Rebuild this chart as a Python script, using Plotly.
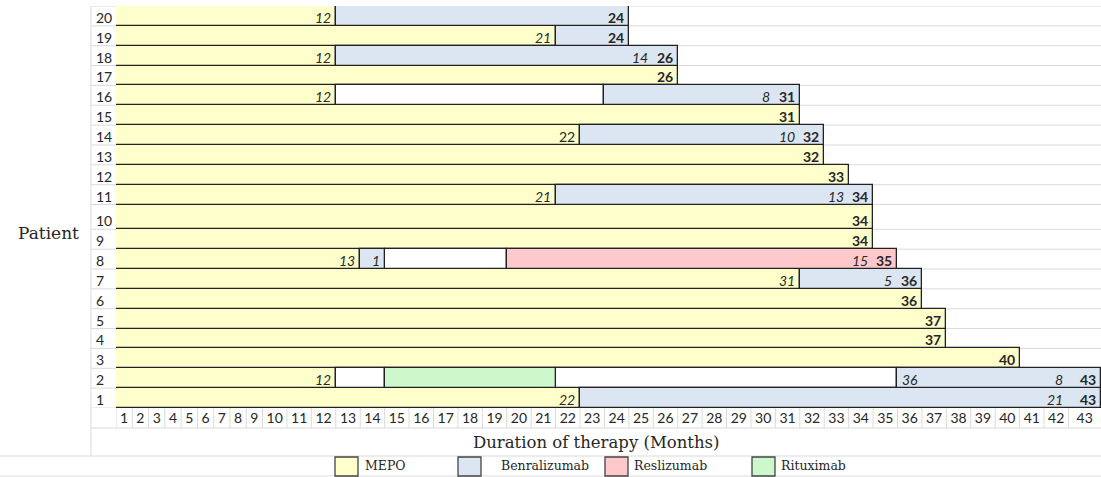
import plotly.graph_objects as go

# ---- data -----------------------------------------------------------------
MONTHS = list(range(1, 44))
PATIENTS = list(range(1, 21))

# MEPO is every patient's first therapy, from month 0 to the month below
MEPO_END = [22, 12, 40, 37, 37, 36, 31, 13, 34, 34,
            21, 33, 32, 22, 31, 12, 26, 12, 21, 12]

BENRA_PATIENT = [1, 2, 7, 8, 11, 14, 16, 18, 19, 20]
BENRA_START = [22, 35, 31, 13, 21, 22, 23, 12, 21, 12]
BENRA_END = [43, 43, 36, 14, 34, 32, 31, 26, 24, 24]

RESLI_PATIENT = [8]
RESLI_START = [19]
RESLI_END = [35]

RITUX_PATIENT = [2]
RITUX_START = [14]
RITUX_END = [21]

# periods without biologic therapy
GAP_PATIENT = [2, 2, 8, 16]
GAP_START = [12, 21, 14, 12]
GAP_END = [14, 35, 19, 23]

# duration notes written in the last-but-one month cell of a segment
NOTE_PATIENT = [18, 16, 14, 11, 8, 8, 7, 2, 1]
NOTE_MONTH = [25, 30, 31, 33, 14, 34, 35, 42, 42]
NOTE_TEXT = ["14", "8", "10", "13", "1", "15", "5", "8", "21"]

THERAPIES = ["MEPO", "Benralizumab", "Reslizumab", "Rituximab"]

# ---- sheet geometry ---------------------------------------------------------
# single-digit month columns are narrower, the last one wider; row 10 is taller
COL_WIDTH = [2] * 9 + [3] * 33 + [4]
ROW_HEIGHT = [4] * 9 + [5] + [4] * 10

COLORS = {"MEPO": "#FFFFCC", "Benralizumab": "#DCE6F2",
          "Reslizumab": "#FFC9CC", "Rituximab": "#CCF8CC", "gap": "#FFFFFF"}
EDGE = "#222222"
GRID = "#dadada"
CELL_FONT = dict(family="Lato", size=14, color="#262626")
SERIF = "DejaVu Serif"

W, H = 1101, 477
L, R, T, B = 116, 0, 6, 69


def edge(m):
    return sum(COL_WIDTH[:m])


def row_bottom(p):
    return sum(ROW_HEIGHT[:p - 1])


def row_mid(p):
    return row_bottom(p) + ROW_HEIGHT[p - 1] / 2


def px(xp):
    return (xp - L) / (W - L - R)


def py(yp):
    return (H - B - yp) / (H - B - T)


def seg_trace(name, color, pats, starts, ends):
    return go.Bar(
        orientation="h",
        y=[row_mid(p) for p in pats],
        base=[edge(s) for s in starts],
        x=[edge(e) - edge(s) for s, e in zip(starts, ends)],
        width=[ROW_HEIGHT[p - 1] for p in pats],
        marker=dict(color=color, line=dict(color=EDGE, width=1.3)),
        name=name, showlegend=False,
        hovertemplate=name + "<extra></extra>",
    )


fig = go.Figure()
fig.add_trace(seg_trace("MEPO", COLORS["MEPO"], PATIENTS, [0] * 20, MEPO_END))
fig.add_trace(seg_trace("No therapy", COLORS["gap"], GAP_PATIENT, GAP_START, GAP_END))
fig.add_trace(seg_trace("Benralizumab", COLORS["Benralizumab"], BENRA_PATIENT, BENRA_START, BENRA_END))
fig.add_trace(seg_trace("Reslizumab", COLORS["Reslizumab"], RESLI_PATIENT, RESLI_START, RESLI_END))
fig.add_trace(seg_trace("Rituximab", COLORS["Rituximab"], RITUX_PATIENT, RITUX_START, RITUX_END))

# total follow-up per patient = last segment end
total = {p: e for p, e in zip(PATIENTS, MEPO_END)}
for pats, ends in [(BENRA_PATIENT, BENRA_END), (RESLI_PATIENT, RESLI_END),
                   (RITUX_PATIENT, RITUX_END), (GAP_PATIENT, GAP_END)]:
    for p, e in zip(pats, ends):
        total[p] = max(total[p], e)

ann = []


def cell_text(p, month, text, align="right"):
    if align == "right":
        x, xs = edge(month), -3
    else:
        x, xs = edge(month - 1), 3
    ann.append(dict(x=x, y=row_bottom(p), xref="x", yref="y", text=text,
                    xanchor=align, yanchor="bottom", xshift=xs, yshift=-2,
                    showarrow=False, font=CELL_FONT))


for p in PATIENTS:
    cell_text(p, total[p], "<b>%d</b>" % total[p])
    if MEPO_END[p - 1] < total[p]:
        t = str(MEPO_END[p - 1])
        cell_text(p, MEPO_END[p - 1], t if p == 14 else "<i>%s</i>" % t)

for p, m, t in zip(NOTE_PATIENT, NOTE_MONTH, NOTE_TEXT):
    cell_text(p, m, "<i>%s</i>" % t)

# first month of the late Benralizumab course of patient 2
for p, s in zip(BENRA_PATIENT, BENRA_START):
    if p == 2:
        cell_text(p, s + 1, "<i>%d</i>" % (s + 1), align="left")

# row headers
for p in PATIENTS:
    ann.append(dict(x=px(94), y=row_bottom(p), xref="paper", yref="y",
                    text=str(p), xanchor="left", yanchor="bottom", yshift=-2,
                    showarrow=False, font=CELL_FONT))

ann.append(dict(x=px(48), y=py(233), xref="paper", yref="paper", text="Patient",
                showarrow=False, xanchor="center", yanchor="middle",
                font=dict(family=SERIF, size=17, color="#262626")))
ann.append(dict(x=px(596), y=py(442), xref="paper", yref="paper",
                text="Duration of therapy (Months)", showarrow=False,
                xanchor="center", yanchor="middle",
                font=dict(family=SERIF, size=16.5, color="#262626")))

shapes = []
# horizontal sheet grid lines at every row boundary
y_acc = 0
for h in [0] + ROW_HEIGHT:
    y_acc += h
    shapes.append(dict(type="line", xref="paper", yref="y", x0=px(91), x1=1,
                       y0=y_acc, y1=y_acc, line=dict(color=GRID, width=1),
                       layer="below"))
# header column border
shapes.append(dict(type="line", xref="paper", yref="paper", x0=px(91), x1=px(91),
                   y0=py(6), y1=py(456), line=dict(color=GRID, width=1)))
# month row cells
for m in range(0, len(MONTHS)):
    shapes.append(dict(type="line", xref="x", yref="paper", x0=edge(m), x1=edge(m),
                       y0=py(408), y1=py(428), line=dict(color=GRID, width=1)))
for yp, x0 in [(428, 91), (456, 0), (476, 0)]:
    shapes.append(dict(type="line", xref="paper", yref="paper", x0=px(x0), x1=1,
                       y0=py(yp), y1=py(yp), line=dict(color=GRID, width=1)))

# legend row
legend_box = [335, 458, 605, 752]
legend_text = [363, 499, 632, 779]
for name, bx, tx in zip(THERAPIES, legend_box, legend_text):
    shapes.append(dict(type="rect", xref="paper", yref="paper",
                       x0=px(bx), x1=px(bx + 23), y0=py(476), y1=py(457),
                       fillcolor=COLORS[name], line=dict(color="#444444", width=1.3)))
    ann.append(dict(x=px(tx), y=py(466), xref="paper", yref="paper", text=name,
                    showarrow=False, xanchor="left", yanchor="middle",
                    font=dict(family=SERIF, size=12.5, color="#262626")))

fig.update_layout(
    width=W, height=H,
    margin=dict(l=L, r=R, t=T, b=B, pad=0),
    paper_bgcolor="white", plot_bgcolor="white",
    barmode="overlay", bargap=0,
    annotations=ann, shapes=shapes,
    showlegend=False,
    xaxis=dict(range=[0, sum(COL_WIDTH)], showgrid=False, zeroline=False,
               showline=False, ticks="",
               tickvals=[edge(m - 1) + COL_WIDTH[m - 1] / 2 for m in MONTHS],
               ticktext=[str(m) for m in MONTHS],
               tickfont=CELL_FONT, tickangle=0, fixedrange=True),
    yaxis=dict(range=[0, sum(ROW_HEIGHT)], showgrid=False, zeroline=False,
               showline=False, showticklabels=False, ticks="", fixedrange=True),
)

fig.write_html("out.html")
